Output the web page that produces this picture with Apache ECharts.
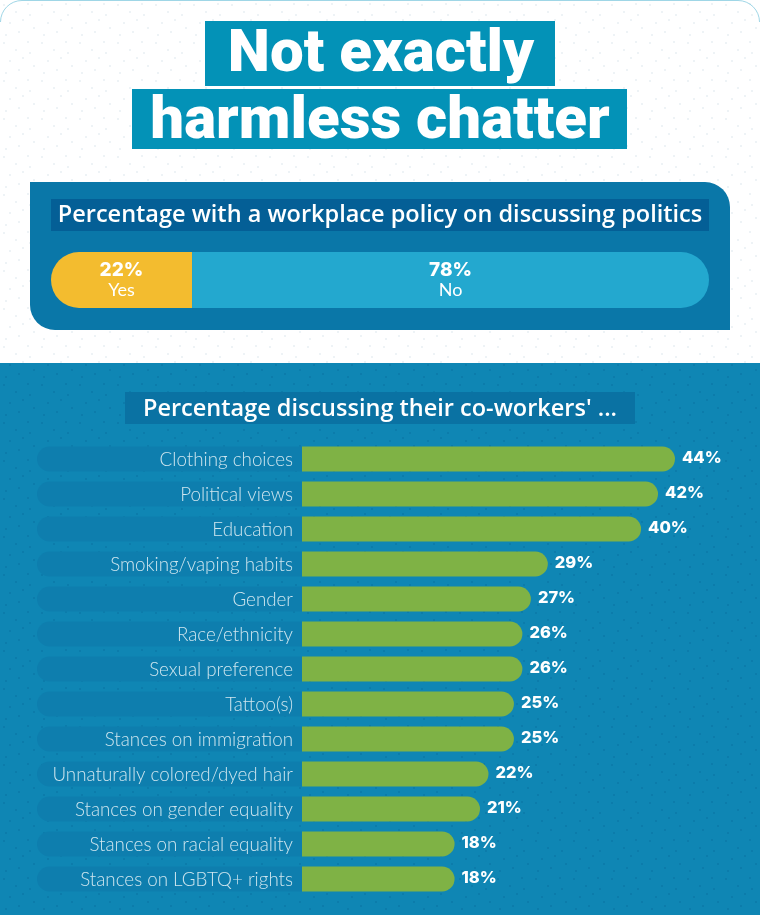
<!DOCTYPE html>
<html><head><meta charset="utf-8">
<style>html,body{margin:0;padding:0;background:#fff}#c{width:760px;height:915px}</style>
<script src="https://cdn.jsdelivr.net/npm/echarts@6/dist/echarts.min.js"></script>
</head><body><div id="c"></div>
<script>
const topics = ['Clothing choices','Political views','Education','Smoking/vaping habits','Gender','Race/ethnicity','Sexual preference','Tattoo(s)','Stances on immigration','Unnaturally colored/dyed hair','Stances on gender equality','Stances on racial equality','Stances on LGBTQ+ rights'];
const topicValues = [44,42,40,29,27,26,26,25,25,22,21,18,18];
const policyNames = ['Yes','No'];
const policyValues = [22,78];
const titleLines = ['Not exactly','harmless chatter'];
const policyHeading = 'Percentage with a workplace policy on discussing politics';
const topicHeading = "Percentage discussing their co-workers' ...";

function dots(size, color, pts){
  const c=document.createElement('canvas');c.width=c.height=size;
  const g=c.getContext('2d');g.fillStyle=color;
  pts.forEach(p=>g.fillRect(p[0],p[1],2,2));
  return {image:c,repeat:'repeat'};
}
const dotPts=[[3,4],[15,11],[27,3],[9,22],[22,19],[33,27],[5,34],[18,31],[29,14]];
const rect=(x,y,w,h,fill,r,z)=>({type:'rect',shape:{x,y,width:w,height:h,r:r||0},style:{fill},z:z||0,silent:true});
const text=(x,y,t,font,fill,extra)=>({type:'text',x,y,style:Object.assign({text:t,font,fill:fill||'#fff',textAlign:'center',textVerticalAlign:'middle'},extra||{}),z:2,silent:true});
const borderLine={stroke:'#9fd6e6',lineWidth:1,fill:'none'};

const pxPerPct=8.477;
const chart=echarts.init(document.getElementById('c'),null,{renderer:'canvas'});
chart.setOption({
  animation:false,
  backgroundColor:'transparent',
  graphic:[
    rect(0,0,760,915,'#ffffff'),
    rect(0,0,760,915,dots(38,'#eef3f6',dotPts)),
    rect(0,363,760,552,'#0f86b4'),
    rect(0,363,760,552,dots(38,'#0c7cab',dotPts)),
    {type:'line',shape:{x1:22,y1:0.5,x2:738,y2:0.5},style:borderLine,silent:true},
    {type:'arc',shape:{cx:22,cy:22,r:21.5,startAngle:Math.PI,endAngle:Math.PI*1.5},style:borderLine,silent:true},
    {type:'arc',shape:{cx:738,cy:22,r:21.5,startAngle:Math.PI*1.5,endAngle:Math.PI*2},style:borderLine,silent:true},
    rect(30,182,700,148,'#0a77a8',[0,25,0,25]),
    rect(51,199,658,32,'#045f96'),
    rect(205,21,350,65,'#0392b7'),
    rect(132,89,495,60,'#0392b7'),
    rect(125,392,510,32,'#0a72a3'),
    text(381,55.5,titleLines[0],'900 60px "Roboto"'),
    text(380,123,titleLines[1],'900 60px "Roboto"'),
    text(380,215,policyHeading,'600 23.5px "Open Sans"'),
    text(380,409,topicHeading,'600 23.5px "Open Sans"')
  ],
  grid:[
    {left:51,width:658,top:252,height:56,outerBoundsMode:'none'},
    {left:0,width:760,top:441.5,height:455,outerBoundsMode:'none'}
  ],
  xAxis:[
    {gridIndex:0,type:'value',min:0.72,max:100,show:false},
    {gridIndex:1,type:'value',min:-302/pxPerPct,max:458/pxPerPct,show:false,splitLine:{show:false}}
  ],
  yAxis:[
    {gridIndex:0,type:'category',data:['Policy'],show:false},
    {gridIndex:1,type:'category',inverse:true,data:topics,
     axisLine:{show:false,onZero:true},axisTick:{show:false},splitLine:{show:false},
     axisLabel:{show:false}}
  ],
  series:[
    {type:'bar',xAxisIndex:0,yAxisIndex:0,stack:'p',barWidth:56,name:policyNames[0],data:[policyValues[0]],
     itemStyle:{color:'#f3bc2f',borderRadius:[28,0,0,28]},
     label:{show:true,position:'inside',formatter:()=>`{a|${policyValues[0]}%}\n{b|${policyNames[0]}}`,
       rich:{a:{fontFamily:'Inter',fontWeight:800,fontSize:19,color:'#fff',lineHeight:20},b:{fontFamily:'Lato',fontWeight:400,fontSize:18,color:'#fff',lineHeight:20}}}},
    {type:'bar',xAxisIndex:0,yAxisIndex:0,stack:'p',barWidth:56,name:policyNames[1],data:[policyValues[1]],
     itemStyle:{color:'#23a8cf',borderRadius:[0,28,28,0]},
     label:{show:true,position:'inside',formatter:()=>`{a|${policyValues[1]}%}\n{b|${policyNames[1]}}`,
       rich:{a:{fontFamily:'Inter',fontWeight:800,fontSize:19,color:'#fff',lineHeight:20},b:{fontFamily:'Lato',fontWeight:400,fontSize:18,color:'#fff',lineHeight:20}}}},
    {type:'bar',xAxisIndex:1,yAxisIndex:1,barWidth:25,barGap:'-100%',silent:true,z:1,
     data:topics.map(()=>-265/pxPerPct),itemStyle:{color:'#0e7eae',borderRadius:[12.5,0,0,12.5]},
     label:{show:true,position:'insideRight',distance:9,offset:[0,1],formatter:p=>p.name,color:'#cfe6ef',fontFamily:'Lato',fontWeight:300,fontSize:18.8}},
    {type:'bar',xAxisIndex:1,yAxisIndex:1,barWidth:25,barGap:'-100%',z:2,
     data:topicValues,itemStyle:{color:'#7fb245',borderRadius:[0,12.5,12.5,0]},
     label:{show:true,position:'right',distance:7,offset:[0,-1],formatter:p=>p.value+'%',color:'#fff',fontFamily:'Inter',fontWeight:800,fontSize:16.5}}
  ]
});
</script></body></html>
